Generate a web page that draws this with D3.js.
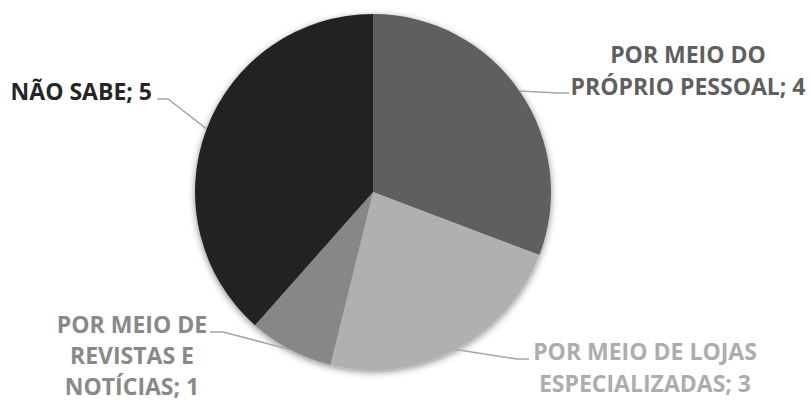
<!DOCTYPE html>
<html>
<head>
<meta charset="utf-8">
<script src="https://cdn.jsdelivr.net/npm/d3@7"></script>
<style>
  html, body { margin: 0; padding: 0; background: #fff; }
  svg { display: block; }
  .lbl { font-family: "Open Sans", sans-serif; font-weight: 700; }
</style>
</head>
<body>
<svg id="chart" width="810" height="401"></svg>
<script>
// Slices, clockwise from 12 o'clock
const categories = [
  "POR MEIO DO PRÓPRIO PESSOAL",
  "POR MEIO DE LOJAS ESPECIALIZADAS",
  "POR MEIO DE REVISTAS E NOTÍCIAS",
  "NÃO SABE"
];
const values = [4, 3, 1, 5];

// Presentation
const sliceColors = ["#5e5e5e", "#b0b0b0", "#878787", "#222222"];
const labelColors = ["#5f5f5f", "#adadad", "#898989", "#262626"];
// words per label line
const lineWords = [[3, 3], [4, 2], [3, 2, 2], [4]];
// label block anchor (x, first baseline, text-anchor, line step) and leader line elbow/end
const labelLayout = [
  { x: 688, y: 63,  anchor: "middle", step: 32, elbow: [558, 93],  end: [569, 93] },
  { x: 645, y: 360, anchor: "middle", step: 32, elbow: [517, 359], end: [529, 359] },
  { x: 132, y: 333, anchor: "middle", step: 31, elbow: [223, 332], end: [210, 332] },
  { x: 152, y: 100, anchor: "end",    step: 32, elbow: [168, 99],  end: [157, 99] }
];

const svg = d3.select("#chart");
const cx = 373, cy = 192, r = 178;

const defs = svg.append("defs");
const f = defs.append("filter").attr("id", "soft")
  .attr("x", "-20%").attr("y", "-20%").attr("width", "140%").attr("height", "140%");
f.append("feDropShadow").attr("dx", 0).attr("dy", 2)
  .attr("stdDeviation", 3.5).attr("flood-color", "#000").attr("flood-opacity", 0.45);

const pie = d3.pie().sort(null).value(d => d.value);
const arcs = pie(categories.map((c, i) => ({ cat: c, value: values[i], i })));
const arc = d3.arc().innerRadius(0).outerRadius(r);
const edge = d3.arc().innerRadius(r).outerRadius(r);

const g = svg.append("g").attr("transform", `translate(${cx},${cy})`);

g.append("g").attr("filter", "url(#soft)")
  .selectAll("path").data(arcs).join("path")
  .attr("d", arc)
  .attr("fill", d => sliceColors[d.data.i]);

// leader lines
g.selectAll("polyline.leader").data(arcs).join("polyline")
  .attr("class", "leader")
  .attr("fill", "none")
  .attr("stroke", "#a6a6a6")
  .attr("stroke-width", 1.5)
  .attr("points", d => {
    const p = edge.centroid(d);
    const L = labelLayout[d.data.i];
    return [[p[0], p[1]], [L.elbow[0] - cx, L.elbow[1] - cy], [L.end[0] - cx, L.end[1] - cy]]
      .map(q => q.join(",")).join(" ");
  });

// labels
arcs.forEach(d => {
  const i = d.data.i;
  const L = labelLayout[i];
  const words = `${d.data.cat}; ${d.data.value}`.split(" ");
  const lines = [];
  let k = 0;
  lineWords[i].forEach(n => { lines.push(words.slice(k, k + n).join(" ")); k += n; });
  const t = svg.append("text").attr("class", "lbl")
    .attr("font-size", 23)
    .attr("fill", labelColors[i])
    .attr("text-anchor", L.anchor);
  lines.forEach((ln, j) => {
    t.append("tspan").attr("x", L.x).attr("y", L.y + j * L.step).text(ln);
  });
});
</script>
</body>
</html>
